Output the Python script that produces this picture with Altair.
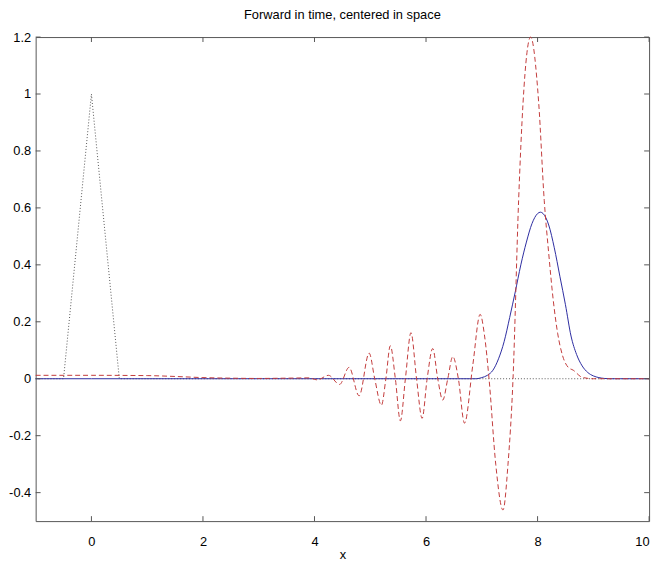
import altair as alt
import pandas as pd

# ---- data ----
init_x = [-1, -0.5, 0, 0.5, 10]
init_y = [0, 0, 1, 0, 0]

exact_x = [-1, 0, 2, 4, 6, 6.9, 7.0, 7.1, 7.2, 7.3, 7.4, 7.5, 7.6, 7.7, 7.8, 7.9, 8.0, 8.05,
           8.1, 8.2, 8.3, 8.4, 8.5, 8.6, 8.7, 8.8, 8.9, 9.0, 9.1, 9.2, 9.3, 10]
exact_y = [0, 0, 0, 0, 0, 0.0, 0.004, 0.012, 0.03, 0.07, 0.13, 0.215, 0.305, 0.40, 0.48, 0.545, 0.58, 0.585,
           0.58, 0.54, 0.46, 0.36, 0.26, 0.15, 0.085, 0.045, 0.022, 0.01, 0.004, 0.001, 0.0, 0]

num_x = [-1, 0, 1, 1.5, 2, 2.5, 3, 3.5, 3.9, 4.05, 4.25, 4.45, 4.62, 4.8, 4.98, 5.08, 5.2, 5.28,
         5.36, 5.45, 5.54, 5.63, 5.73, 5.83, 5.93, 6.02, 6.12, 6.21, 6.30, 6.39, 6.48, 6.58,
         6.69, 6.84, 6.97, 7.05, 7.13, 7.25, 7.38, 7.47, 7.56, 7.66, 7.74, 7.875, 8.02, 8.12,
         8.2, 8.28, 8.36, 8.45, 8.55, 8.64, 8.8, 9.0, 10]
num_y = [0.012, 0.012, 0.011, 0.008, 0.004, 0.002, 0.001, 0.002, 0.003, -0.004, 0.012, -0.02,
         0.04, -0.06, 0.09, 0.0, -0.093, 0.0, 0.116, 0.0, -0.148, 0.0, 0.162, 0.0, -0.139, 0.0,
         0.106, 0.0, -0.075, 0.0, 0.078, 0.0, -0.156, 0.05, 0.226, 0.15, 0.0, -0.3, -0.461, -0.3,
         0.0, 0.625, 0.97, 1.2, 0.97, 0.625, 0.44, 0.278, 0.16, 0.08, 0.04, 0.03, 0.005, 0.0, 0]

x_ticks = [0, 2, 4, 6, 8, 10]
y_ticks = [-0.4, -0.2, 0, 0.2, 0.4, 0.6, 0.8, 1, 1.2]

title = "Forward in time, centered in space"
FONT = "Liberation Sans"

W, H = 621, 490
TICK = 5

df_init = pd.DataFrame({"x": init_x, "y": init_y})
df_exact = pd.DataFrame({"x": exact_x, "y": exact_y})
df_num = pd.DataFrame({"x": num_x, "y": num_y})
df_xt = pd.DataFrame({"t": x_ticks})
df_yt = pd.DataFrame({"t": y_ticks})

xscale = alt.Scale(domain=[-1, 10], nice=False, zero=False)
yscale = alt.Scale(domain=[-0.5, 1.2], nice=False, zero=False)

xaxis = alt.Axis(values=x_ticks, grid=False, ticks=False, domain=False, labelFont=FONT,
                 labelFontSize=13, labelColor="black", labelPadding=15, title="x",
                 titleFont=FONT, titleFontSize=13, titleFontWeight="normal",
                 titleColor="black", titlePadding=0, labelExpr="'' + datum.value")
yaxis = alt.Axis(values=y_ticks, grid=False, ticks=False, domain=False, labelFont=FONT,
                 labelFontSize=13, labelColor="black", labelPadding=5, title=None,
                 labelExpr="'' + datum.value")

init_layer = alt.Chart(df_init).mark_line(color="#555555", strokeWidth=1, strokeDash=[1, 2]).encode(
    x=alt.X("x:Q", scale=xscale, axis=xaxis),
    y=alt.Y("y:Q", scale=yscale, axis=yaxis),
)
exact_layer = alt.Chart(df_exact).mark_line(color="#2b2ba0", strokeWidth=1, interpolate="monotone").encode(
    x=alt.X("x:Q", scale=xscale),
    y=alt.Y("y:Q", scale=yscale),
)
num_layer = alt.Chart(df_num).mark_line(color="#c23a3a", strokeWidth=1, strokeDash=[5, 3],
                                        interpolate="monotone").encode(
    x=alt.X("x:Q", scale=xscale),
    y=alt.Y("y:Q", scale=yscale),
)

tick_color = "#555555"
xt_bottom = alt.Chart(df_xt).mark_rule(color=tick_color, strokeWidth=1).encode(
    x=alt.X("t:Q", scale=xscale), y=alt.value(H), y2=alt.value(H - TICK))
xt_top = alt.Chart(df_xt).mark_rule(color=tick_color, strokeWidth=1).encode(
    x=alt.X("t:Q", scale=xscale), y=alt.value(0), y2=alt.value(TICK))
yt_left = alt.Chart(df_yt).mark_rule(color=tick_color, strokeWidth=1).encode(
    y=alt.Y("t:Q", scale=yscale), x=alt.value(0), x2=alt.value(TICK))
yt_right = alt.Chart(df_yt).mark_rule(color=tick_color, strokeWidth=1).encode(
    y=alt.Y("t:Q", scale=yscale), x=alt.value(W), x2=alt.value(W - TICK))

chart = alt.layer(init_layer, exact_layer, num_layer, xt_bottom, xt_top, yt_left, yt_right).properties(
    width=W, height=H,
    background="white",
    title=alt.TitleParams(title, font=FONT, fontSize=13, fontWeight="normal", color="black",
                          anchor="middle", baseline="bottom", offset=6, dy=10),
    autosize=alt.AutoSizeParams(type="none"),
    padding={"left": 28, "top": 26, "right": 8, "bottom": 40},
).configure_view(stroke=tick_color, strokeWidth=1)

chart.save("out.html", embed_options={"renderer": "svg", "actions": False})
